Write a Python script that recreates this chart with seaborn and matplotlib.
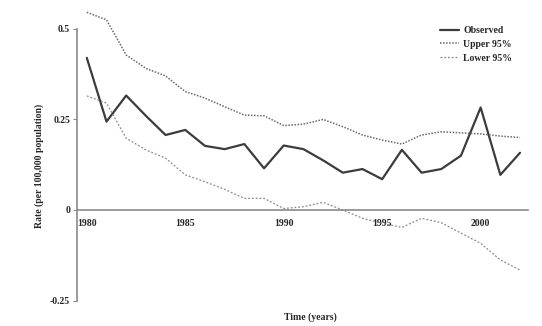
import matplotlib
matplotlib.use("Agg")
import matplotlib.pyplot as plt
import seaborn as sns
import pandas as pd
from matplotlib.ticker import MultipleLocator, FixedLocator

years = list(range(1980, 2003))
observed = [0.42, 0.244, 0.316, 0.26, 0.207, 0.221, 0.177, 0.168, 0.182, 0.115,
            0.178, 0.168, 0.137, 0.103, 0.113, 0.085, 0.166, 0.103, 0.113, 0.15,
            0.283, 0.097, 0.158]
upper = [0.546, 0.525, 0.428, 0.391, 0.37, 0.327, 0.309, 0.285, 0.262, 0.26,
         0.233, 0.237, 0.25, 0.23, 0.207, 0.193, 0.182, 0.207, 0.216, 0.213,
         0.21, 0.204, 0.2]
lower = [0.315, 0.295, 0.198, 0.166, 0.143, 0.097, 0.078, 0.057, 0.032, 0.032,
         0.004, 0.009, 0.021, 0.0, -0.023, -0.037, -0.048, -0.023, -0.035, -0.064,
         -0.092, -0.138, -0.166]
series_names = ["Observed", "Upper 95%", "Lower 95%"]
yticks = [-0.25, 0, 0.25, 0.5]
ytick_labels = ["-0.25", "0", "0.25", "0.5"]
xtick_major = [1980, 1985, 1990, 1995, 2000]

sns.set_style("white")
plt.rcParams["font.family"] = ["Liberation Serif", "DejaVu Serif"]
plt.rcParams["font.weight"] = "bold"

fig = plt.figure(figsize=(5.42, 3.26), dpi=100)
ax = fig.add_axes([0.142, 0.056, 0.832, 0.922])

df = pd.DataFrame({"Year": years * 3,
                   "Rate": observed + upper + lower,
                   "Series": [series_names[0]] * len(years) + [series_names[1]] * len(years) + [series_names[2]] * len(years)})

styles = {
    "Observed": dict(color="#3c3c3c", linewidth=1.6, linestyle="-"),
    "Upper 95%": dict(color="#6a6a6a", linewidth=1.1, linestyle=(0, (1, 1))),
    "Lower 95%": dict(color="#8a8a8a", linewidth=0.9, linestyle=(0, (1.5, 1.5))),
}
for name in series_names:
    sub = df[df["Series"] == name]
    sns.lineplot(data=sub, x="Year", y="Rate", ax=ax, label=name, **styles[name])

ax.set_xlim(1979.5, 2002.4)
ax.set_ylim(-0.27, 0.56)

for s in ["top", "right"]:
    ax.spines[s].set_visible(False)
ax.spines["bottom"].set_position(("data", 0))
ax.spines["left"].set_bounds(-0.25, 0.5)
for s in ["left", "bottom"]:
    ax.spines[s].set_color("#8a8a8a")
    ax.spines[s].set_linewidth(1.2)

ax.set_yticks(yticks)
ax.set_yticklabels(ytick_labels)
ax.xaxis.set_major_locator(FixedLocator(xtick_major))
ax.xaxis.set_minor_locator(MultipleLocator(1))
ax.set_xticklabels([str(x) for x in xtick_major])
ax.tick_params(axis="x", which="both", direction="inout", length=5, width=0.8,
               color="#8a8a8a", labelsize=7, pad=4)
ax.tick_params(axis="y", direction="out", length=3, width=0.8, color="#8a8a8a",
               labelsize=7, pad=2, left=True)

ax.set_xlabel("")
ax.set_ylabel("")
fig.text(0.573, 0.028, "Time (years)", ha="center", va="center", fontsize=7, fontweight="bold")
fig.text(0.072, 0.49, "Rate (per 100,000 population)", ha="center", va="center",
         rotation=90, fontsize=7, fontweight="bold")

leg = ax.legend(loc="upper right", bbox_to_anchor=(0.98, 0.96), frameon=False,
                fontsize=7, handlelength=2.0, labelspacing=0.5, handletextpad=0.4,
                borderaxespad=0.3)
for t in leg.get_texts():
    t.set_fontweight("bold")

fig.savefig("out.png", dpi=100)
